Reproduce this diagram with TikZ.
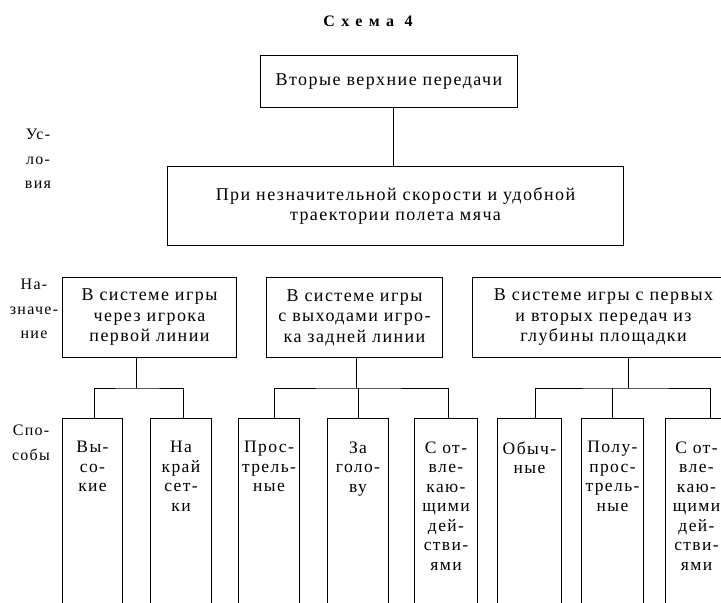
\documentclass[tikz,border=0pt]{standalone}
\usepackage{fontspec}
\setmainfont{Liberation Serif}[LetterSpace=8]
\usetikzlibrary{calc}
\begin{document}
\begin{tikzpicture}[x=1pt,y=-1pt,line width=1pt,
  box/.style={draw,inner sep=0pt,anchor=north west,align=center,
    font=\fontsize{18}{20.5}\selectfont},
  vbox/.style={draw,inner sep=0pt,anchor=north west,minimum height=210pt},
  btxt/.style={anchor=north,inner sep=0pt,align=center,
    font=\fontsize{17.5}{19.5}\selectfont},
  side/.style={align=center,inner sep=0pt,font=\fontsize{16}{24.5}\selectfont},
  conn/.style={draw,line width=1pt}]
\useasboundingbox (0,0) rectangle (721,603);

% title
\node[font=\addfontfeature{LetterSpace=40}\fontsize{16}{18}\bfseries\selectfont] (title) at (368,21) {Схема 4};

% side labels
\node[side] (l1) at (38,159) {Ус-\\ло-\\вия};
\node[side] (l2) at (34,309) {На-\\значе-\\ние};
\node[side] (l3) at (31,443) {Спо-\\собы};

% top boxes
\node[box,minimum width=257pt,minimum height=52pt] (top) at (260,55) {Вторые верхние передачи};
\node[box,minimum width=456pt,minimum height=79pt] (cond) at (167,166)
  {При незначительной скорости и удобной\\траектории полета мяча};

% purpose row
\node[box,minimum width=174pt,minimum height=80pt] (r1) at (62,277)
  {В системе игры\\через игрока\\первой линии};
\node[box,minimum width=176pt,minimum height=80pt] (r2) at (266,277)
  {В системе игры\\с выходами игро-\\ка задней линии};
\node[box,minimum width=262pt,minimum height=80pt] (r3) at (472,277)
  {В системе игры с первых\\и вторых передач из\\глубины площадки};

% method row
\node[vbox,minimum width=60pt] (b1) at (62,418) {};
\node[vbox,minimum width=61pt] (b2) at (150,418) {};
\node[vbox,minimum width=61pt] (b3) at (238,418) {};
\node[vbox,minimum width=61pt] (b4) at (327,418) {};
\node[vbox,minimum width=63pt] (b5) at (414,418) {};
\node[vbox,minimum width=64pt] (b6) at (497,418) {};
\node[vbox,minimum width=62pt] (b7) at (581,418) {};
\node[vbox,minimum width=62pt] (b8) at (665,418) {};

\node[btxt] (t1) at ($(b1.north)+(0,23)$) {Вы-\\со-\\кие};
\node[btxt] (t2) at ($(b2.north)+(0,23)$) {На\\край\\сет-\\ки};
\node[btxt] (t3) at ($(b3.north)+(0,23)$) {Прос-\\трель-\\ные};
\node[btxt] (t4) at ($(b4.north)+(0,23)$) {За\\голо-\\ву};
\node[btxt] (t5) at ($(b5.north)+(0,23)$) {С от-\\вле-\\каю-\\щими\\дей-\\стви-\\ями};
\node[btxt] (t6) at ($(b6.north)+(0,23)$) {Обыч-\\ные};
\node[btxt] (t7) at ($(b7.north)+(0,23)$) {Полу-\\прос-\\трель-\\ные};
\node[btxt] (t8) at ($(b8.north)+(0,23)$) {С от-\\вле-\\каю-\\щими\\дей-\\стви-\\ями};

% connectors
\coordinate (j0) at (393,130);
\draw[conn] (top.south -| j0) -- (cond.north -| j0);

\coordinate (j1) at (136,388);
\coordinate (j2) at (356,388);
\coordinate (j3) at (628,388);
\draw[conn] (r1.south -| j1) -- (j1);
\draw[conn] (r2.south -| j2) -- (j2);
\draw[conn] (r3.south -| j3) -- (j3);

\draw[conn] ($(b1.north)+(2,0)$) |- (j1) -| ($(b2.north)+(2,0)$);
\draw[conn] ($(b3.north)+(5,0)$) |- (j2) -| ($(b5.north)+(2,0)$);
\draw[conn] ($(b4.north)+(0,0)$) -- (b4.north |- j2);
\draw[conn] ($(b6.north)+(6,0)$) |- (j3) -| ($(b8.north)+(14,0)$);
\draw[conn] (b7.north) -- (b7.north |- j3);
\end{tikzpicture}
\end{document}
